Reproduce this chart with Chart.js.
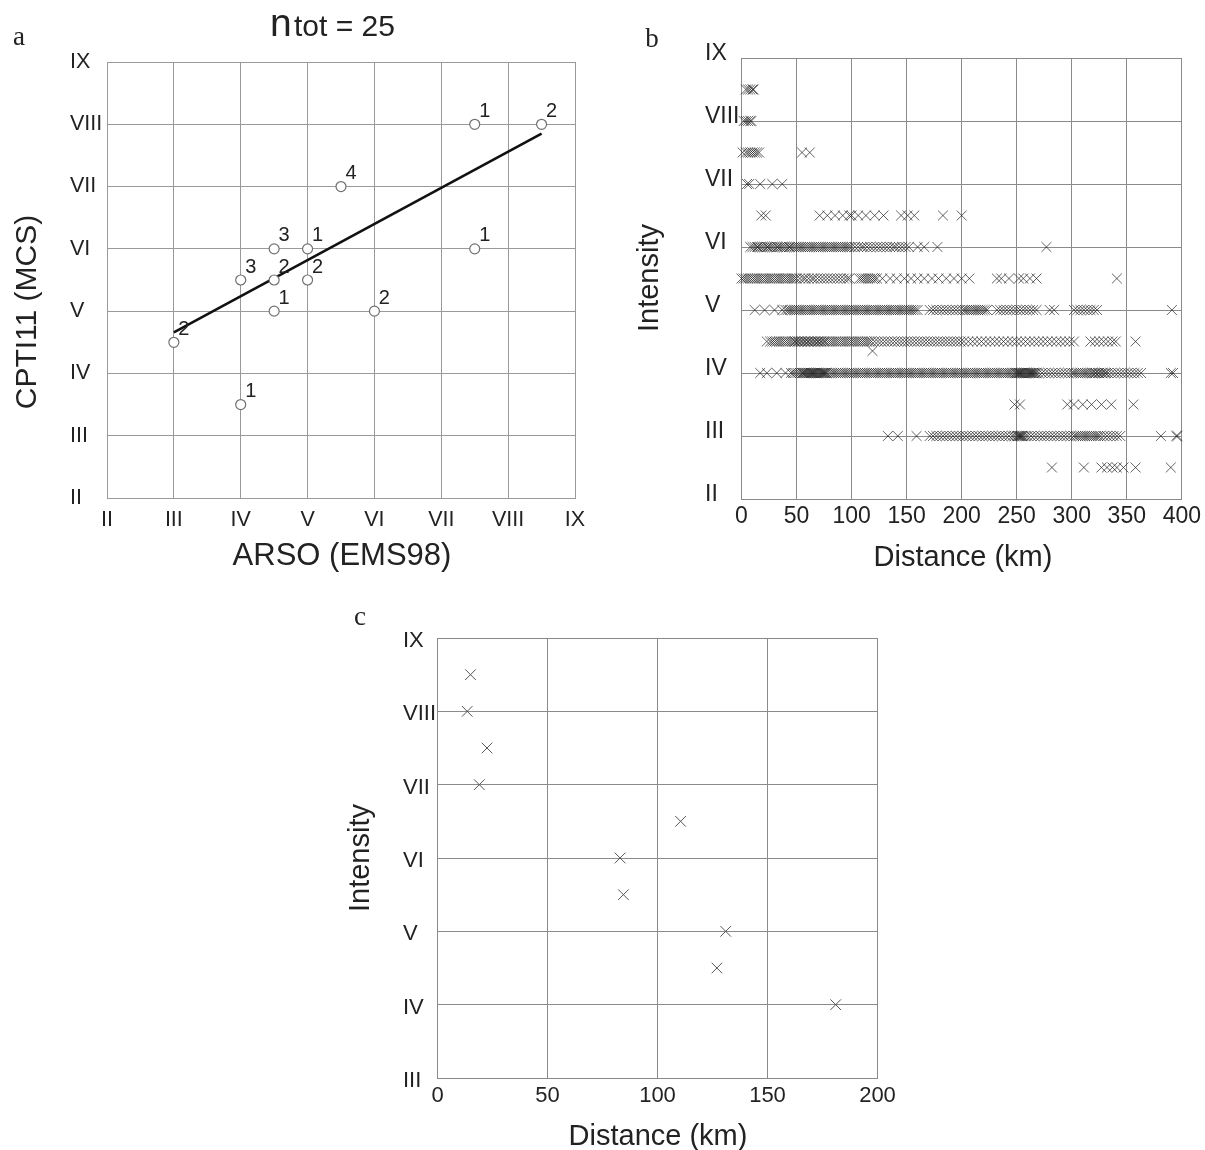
<!DOCTYPE html>
<html>
<head>
<meta charset="utf-8">
<script src="https://cdn.jsdelivr.net/npm/chart.js@4.4.1/dist/chart.umd.min.js"></script>
<style>
	body { margin: 0; background: #fff; }
	#page { position: relative; width: 1205px; height: 1150px; background: #fff; overflow: hidden; }
	canvas { position: absolute; }
</style>
</head>
<body>
<div id="page">
	<canvas id="chart-a" width="610" height="590" style="left:0px;top:0px"></canvas>
	<canvas id="chart-b" width="575" height="590" style="left:630px;top:0px"></canvas>
	<canvas id="chart-c" width="570" height="560" style="left:340px;top:590px"></canvas>
</div>
<script>
// tick labels
const intensityTicks = [2, 3, 4, 5, 6, 7, 8, 9]
const romanTicks = ["II", "III", "IV", "V", "VI", "VII", "VIII", "IX"]

// panel a: ARSO vs CPTI11 intensities, with number of events per point
const arsoA = [7.5, 8.5, 5.5, 4.5, 5, 4, 4.5, 5, 4.5, 6, 3, 4, 7.5]
const cptiA = [8, 8, 7, 6, 6, 5.5, 5.5, 5.5, 5, 5, 4.5, 3.5, 6]
const countsA = [1, 2, 4, 3, 1, 3, 2, 2, 1, 2, 2, 1, 1]
const fitXA = [3, 8.5]
const fitYA = [4.66, 7.85]
const nTot = 25

// panel b: distance (km) of the observations, one list per intensity row
const intensB = [8.5, 8, 7.5, 7, 6.5, 6, 5.5, 5, 4.5, 4, 3.5, 3, 2.5]
const distB_85 = [4, 6, 8, 10, 11]
const distB_8 = [2, 4, 6, 8, 9]
const distB_75 = [1, 4, 6, 8, 10, 12, 14, 16, 55, 62]
const distB_7 = [5, 7, 17, 28, 37]
const distB_65 = [18, 22, 71, 78, 85, 92, 98, 100, 106, 113, 121, 129, 145, 151, 157, 183, 200]
const distB_6 = [8, 10, 12, 14, 15, 17, 19, 21, 23, 24, 26, 28, 30, 32, 33, 35, 37, 39, 41, 43, 44, 46, 48, 50, 52, 54, 56, 58, 60, 62, 64, 66, 68, 70, 72, 74, 76, 78, 80, 82, 84, 86, 88, 90, 92, 94, 96, 98, 100, 103, 106, 109, 111, 114, 117, 120, 123, 126, 129, 132, 135, 138, 140, 143, 146, 149, 152, 160, 166, 178, 277]
const distB_55 = [0, 2, 4, 6, 8, 10, 12, 14, 16, 18, 20, 22, 24, 26, 28, 30, 32, 34, 36, 38, 40, 42, 44, 46, 48, 50, 53, 56, 58, 61, 64, 66, 69, 72, 75, 78, 81, 84, 87, 90, 93, 96, 98, 107, 109, 111, 113, 115, 117, 119, 121, 123, 128, 135, 141, 148, 154, 160, 166, 173, 179, 186, 193, 200, 207, 232, 236, 243, 252, 256, 262, 268, 341]
const distB_5 = [12, 21, 30, 37, 40, 42, 44, 46, 48, 50, 52, 54, 56, 58, 60, 62, 64, 66, 68, 70, 72, 74, 76, 78, 80, 82, 84, 86, 88, 90, 92, 94, 96, 98, 100, 102, 104, 106, 108, 110, 112, 114, 116, 118, 120, 122, 124, 126, 128, 130, 132, 134, 136, 138, 140, 142, 144, 146, 148, 150, 152, 154, 156, 158, 160, 171, 174, 177, 180, 183, 186, 189, 192, 195, 198, 201, 203, 205, 207, 209, 211, 213, 215, 217, 219, 221, 223, 232, 235, 238, 241, 244, 247, 250, 253, 256, 259, 262, 265, 268, 280, 284, 302, 305, 308, 311, 314, 317, 320, 323, 391]
const distB_45 = [23, 26, 28, 30, 32, 34, 36, 38, 40, 42, 44, 46, 48, 49, 51, 52, 54, 55, 57, 58, 60, 61, 63, 64, 66, 67, 69, 70, 72, 73, 75, 76, 78, 80, 82, 84, 86, 88, 90, 92, 94, 96, 98, 100, 102, 104, 106, 108, 110, 112, 114, 116, 118, 121, 124, 127, 130, 133, 136, 139, 142, 145, 148, 151, 154, 157, 160, 163, 166, 169, 172, 175, 178, 181, 184, 187, 190, 193, 196, 199, 202, 206, 210, 214, 218, 222, 226, 230, 234, 238, 242, 246, 250, 254, 258, 262, 266, 270, 274, 278, 282, 286, 290, 294, 298, 302, 317, 321, 325, 329, 333, 337, 340, 358]
const distB_4 = [17, 23, 32, 40, 45, 47, 49, 51, 53, 55, 56, 57, 58, 59, 60, 61, 62, 63, 64, 65, 66, 67, 68, 69, 70, 71, 72, 73, 74, 75, 76, 77, 78, 80, 82, 84, 86, 88, 90, 92, 94, 96, 98, 100, 102, 104, 106, 108, 110, 112, 114, 116, 118, 120, 122, 124, 126, 128, 130, 132, 134, 136, 138, 140, 142, 144, 146, 148, 150, 152, 154, 156, 158, 160, 162, 164, 166, 168, 170, 172, 174, 176, 178, 180, 182, 184, 186, 188, 190, 192, 194, 196, 198, 200, 202, 204, 206, 208, 210, 212, 214, 216, 218, 220, 222, 224, 226, 228, 230, 232, 234, 236, 238, 240, 242, 244, 246, 248, 249, 250, 251, 252, 253, 254, 255, 256, 257, 258, 259, 260, 261, 262, 263, 264, 265, 266, 267, 268, 270, 273, 276, 279, 282, 285, 288, 291, 294, 297, 300, 302, 304, 306, 308, 310, 312, 314, 316, 318, 319, 321, 322, 324, 325, 327, 328, 330, 331, 333, 336, 339, 342, 345, 348, 351, 354, 357, 360, 363, 390, 392]
const distB_35 = [248, 253, 296, 302, 310, 318, 327, 336, 356]
const distB_3 = [133, 142, 159, 171, 174, 177, 180, 183, 186, 189, 192, 195, 198, 201, 204, 207, 210, 213, 216, 219, 222, 225, 228, 231, 234, 237, 240, 243, 246, 248, 250, 251, 252, 253, 254, 255, 256, 258, 260, 263, 266, 269, 272, 275, 278, 281, 284, 287, 290, 293, 296, 299, 302, 304, 306, 308, 310, 312, 314, 316, 318, 320, 322, 324, 326, 329, 332, 335, 338, 341, 344, 381, 395, 396]
const distB_25 = [282, 311, 327, 332, 337, 341, 347, 358, 390]
const extraDistB = [119]
const extraIntB = [4.35]

// panel c: single event observations
const distC = [15, 13.5, 22.5, 19, 110.5, 83, 84.5, 131, 127, 181]
const intC = [8.5, 8, 7.5, 7, 6.5, 6, 5.5, 5, 4.5, 4]

const sans = "'Liberation Sans', Arial, sans-serif"
const serif = "'Liberation Serif', 'Times New Roman', serif"
const ink = '#222'

function romanLabel(v){
	const i = intensityTicks.indexOf(v)
	return i >= 0 ? romanTicks[i] : ''
}

function toPoints(xs, ys){
	return xs.map((x, i) => ({x: x, y: ys[i]}))
}

// texts that are not ticks: panel letter, axis titles, title
function textPlugin(items){
	return {
		id: 'texts',
		afterDraw(chart){
			const ctx = chart.ctx
			ctx.save()
			ctx.fillStyle = ink
			items.forEach(t => {
				ctx.save()
				ctx.font = t.size + 'px ' + (t.family || sans)
				ctx.textAlign = t.align || 'center'
				ctx.textBaseline = t.baseline || 'middle'
				ctx.translate(t.x, t.y)
				if(t.rotate) ctx.rotate(-Math.PI / 2)
				ctx.fillText(t.text, 0, 0)
				ctx.restore()
			})
			ctx.restore()
		}
	}
}

function makeScales(p){
	return {
		x: {
			type: 'linear',
			min: p.xMin,
			max: p.xMax,
			ticks: {
				stepSize: p.xStep,
				autoSkip: false,
				maxRotation: 0,
				padding: p.xPad,
				color: ink,
				font: {family: sans, size: p.tickSize},
				callback: p.xRoman ? romanLabel : (v) => v
			},
			grid: {color: p.gridColor, lineWidth: 1, drawTicks: false},
			border: {color: p.gridColor},
			afterFit: (s) => { s.height = p.xHeight }
		},
		y: {
			type: 'linear',
			min: p.yMin,
			max: 9,
			ticks: {
				stepSize: 1,
				autoSkip: false,
				crossAlign: 'far',
				labelOffset: p.yOffset,
				color: ink,
				font: {family: sans, size: p.tickSize},
				callback: romanLabel
			},
			grid: {color: p.gridColor, lineWidth: 1, drawTicks: false},
			border: {color: p.gridColor},
			afterFit: (s) => { s.width = p.yWidth }
		}
	}
}

const baseOptions = {
	responsive: false,
	animation: false,
	events: [],
	plugins: {legend: {display: false}, tooltip: {enabled: false}}
}

// ---- panel a
const countLabels = {
	id: 'countLabels',
	afterDatasetsDraw(chart){
		const ctx = chart.ctx
		const meta = chart.getDatasetMeta(0)
		ctx.save()
		ctx.fillStyle = ink
		ctx.font = '20px ' + sans
		ctx.textAlign = 'center'
		ctx.textBaseline = 'middle'
		meta.data.forEach((pt, i) => {
			ctx.fillText(String(countsA[i]), pt.x + 10, pt.y - 13)
		})
		ctx.restore()
	}
}

new Chart("chart-a", {
	type: 'scatter',
	data: {
		datasets: [{
			data: toPoints(arsoA, cptiA),
			pointStyle: 'circle',
			pointRadius: 5,
			pointBackgroundColor: '#fff',
			pointBorderColor: '#707070',
			pointBorderWidth: 1.2,
			clip: false
		}, {
			data: toPoints(fitXA, fitYA),
			showLine: true,
			borderColor: '#111',
			borderWidth: 2.6,
			pointRadius: 0
		}]
	},
	options: Object.assign({}, baseOptions, {
		layout: {padding: {left: 70, right: 35, top: 62, bottom: 0}},
		scales: makeScales({xMin: 2, xMax: 9, xStep: 1, xRoman: true, yMin: 2, xPad: 9, yOffset: 0,
			tickSize: 21.5, gridColor: '#9a9a9a', xHeight: 92, yWidth: 37})
	}),
	plugins: [countLabels, textPlugin([
		{text: 'a', x: 19, y: 45, size: 27, family: serif, baseline: 'alphabetic'},
		{text: 'n', x: 270, y: 36, size: 39, align: 'left', baseline: 'alphabetic'},
		{text: 'tot = ' + nTot, x: 294, y: 36, size: 30, align: 'left', baseline: 'alphabetic'},
		{text: 'CPTI11 (MCS)', x: 28, y: 312, size: 30, rotate: true},
		{text: 'ARSO (EMS98)', x: 342, y: 556, size: 31}
	])]
})

// ---- panel b
const distRowsB = [distB_85, distB_8, distB_75, distB_7, distB_65, distB_6, distB_55, distB_5, distB_45, distB_4, distB_35, distB_3, distB_25]
const pointsB = []
distRowsB.forEach((row, i) => {
	row.forEach(d => pointsB.push({x: d, y: intensB[i]}))
})
toPoints(extraDistB, extraIntB).forEach(p => pointsB.push(p))

new Chart("chart-b", {
	type: 'scatter',
	data: {
		datasets: [{
			data: pointsB,
			pointStyle: 'crossRot',
			pointRadius: 7,
			pointBorderColor: 'rgba(25,25,25,0.68)',
			pointBorderWidth: 1,
			clip: false
		}]
	},
	options: Object.assign({}, baseOptions, {
		layout: {padding: {left: 75, right: 21.7, top: 58, bottom: 0}},
		scales: makeScales({xMin: 0, xMax: 400, xStep: 50, xRoman: false, yMin: 2, xPad: 4, yOffset: -4,
			tickSize: 23, gridColor: '#8a8a8a', xHeight: 91, yWidth: 36.5})
	}),
	plugins: [textPlugin([
		{text: 'b', x: 22, y: 47, size: 27, family: serif, baseline: 'alphabetic'},
		{text: 'Intensity', x: 20, y: 278, size: 29, rotate: true},
		{text: 'Distance (km)', x: 333, y: 558, size: 29}
	])]
})

// ---- panel c
new Chart("chart-c", {
	type: 'scatter',
	data: {
		datasets: [{
			data: toPoints(distC, intC),
			pointStyle: 'crossRot',
			pointRadius: 7.5,
			pointBorderColor: '#555',
			pointBorderWidth: 1,
			clip: false
		}]
	},
	options: Object.assign({}, baseOptions, {
		layout: {padding: {left: 63, right: 32.5, top: 48, bottom: 0}},
		scales: makeScales({xMin: 0, xMax: 200, xStep: 50, xRoman: false, yMin: 3, xPad: 5, yOffset: 3,
			tickSize: 22, gridColor: '#8a8a8a', xHeight: 72, yWidth: 34.5})
	}),
	plugins: [textPlugin([
		{text: 'c', x: 20, y: 35, size: 27, family: serif, baseline: 'alphabetic'},
		{text: 'Intensity', x: 21, y: 268, size: 29, rotate: true},
		{text: 'Distance (km)', x: 318, y: 547, size: 29}
	])]
})
</script>
</body>
</html>
